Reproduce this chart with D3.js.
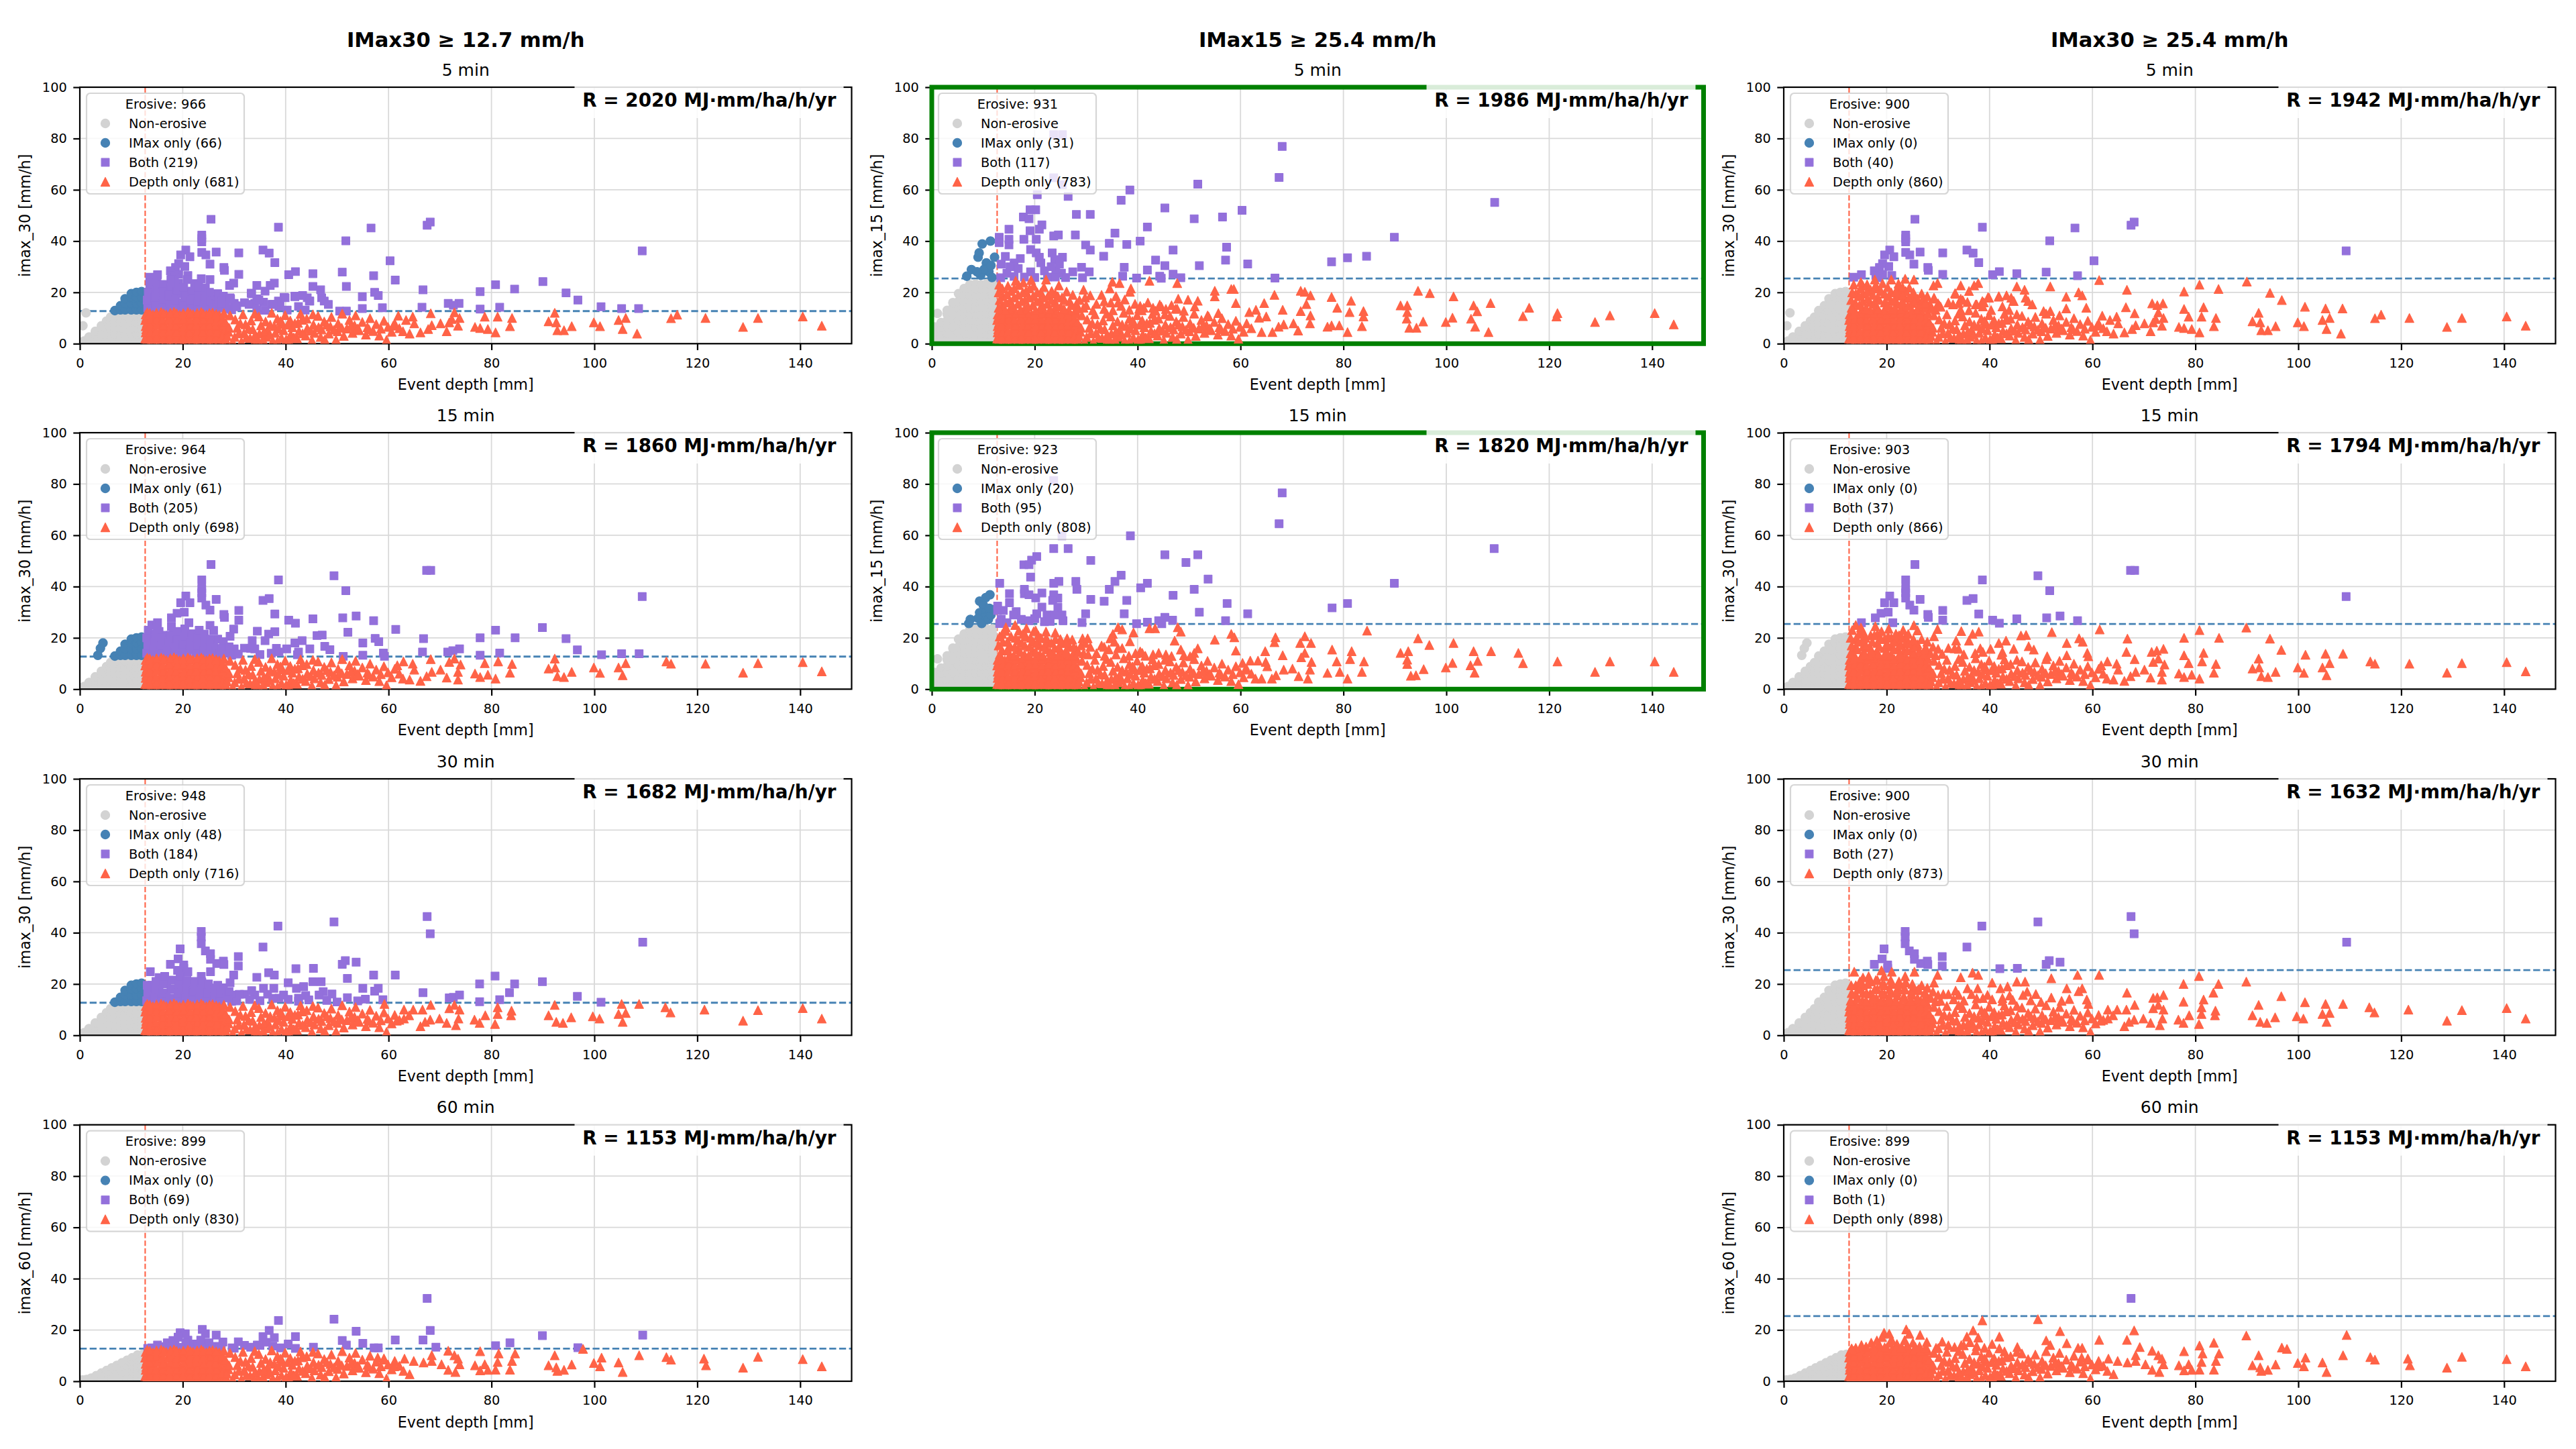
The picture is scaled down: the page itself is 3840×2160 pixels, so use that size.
<!DOCTYPE html>
<html>
<head>
<meta charset="utf-8">
<script src="https://cdn.jsdelivr.net/npm/d3@7"></script>
<style>
  html, body { margin: 0; background: #fff; }
  text { font-family: "DejaVu Sans", sans-serif; fill: #000; }
</style>
</head>
<body>
<svg id="chart" width="3840" height="2160"></svg>
<script>
// Column and row captions
const columnTitles = ["IMax30 ≥ 12.7 mm/h", "IMax15 ≥ 25.4 mm/h", "IMax30 ≥ 25.4 mm/h"];
const rowDurations = ["5 min", "15 min", "30 min", "60 min"];
const depthTicks = [0, 20, 40, 60, 80, 100, 120, 140];
const intensityTicks = [0, 20, 40, 60, 80, 100];
const depthThreshold = 12.7;
const intensityThresholds = [12.7, 25.4, 25.4];

// Annual erosivity and event counts per column, top row first
const rFactors = [[2020, 1860, 1682, 1153], [1986, 1820], [1942, 1794, 1632, 1153]];
const erosiveCounts = [[966, 964, 948, 899], [931, 923], [900, 903, 900, 899]];
const imaxOnlyCounts = [[66, 61, 48, 0], [31, 20], [0, 0, 0, 0]];
const bothCounts = [[219, 205, 184, 69], [117, 95], [40, 37, 27, 1]];
const depthOnlyCounts = [[681, 698, 716, 830], [783, 808], [860, 866, 873, 898]];
const yLabels = [["imax_30", "imax_30", "imax_30", "imax_60"], ["imax_15", "imax_15"], ["imax_30", "imax_30", "imax_30", "imax_60"]];

// Small events below the depth limit: depth with its intensities
const wedge30 = [[0.8,[1]],[1.8,[1,2.6]],[3,[1.2,3.6,4.8]],[4.2,[1.2,3.6,6,7]],[5.2,[1.2,3.6,6,8.8]],[6,[1.2,3.6,6,8.4,10.4]],[6.8,[1.2,3.6,6,8.4,10.8,12.9]],[7.9,[1.2,3.6,6,8.4,10.8,13.2,14.8]],[8.8,[1.2,3.6,6,8.4,10.8,13.2,15.6,17.5]],[10,[1.2,3.6,6,8.4,10.8,13.2,15.6,18,19.5]],[11,[1.2,3.6,6,8.4,10.8,13.2,15.6,18,20]],[12,[1.2,3.6,6,8.4,10.8,13.2,15.6,18,20.3]]];
const wedge15 = [[0.6,[1.5,4,6.5]],[1.1,[11.8]],[1.8,[1.5,4,6.5,8.2]],[3,[1.5,4,6.5,9,11.5,13]],[4.1,[1.5,4,6.5,9,11.5,14,16]],[5.2,[1.5,4,6.5,9,11.5,14,16.5,19.5]],[6.3,[1.5,4,6.5,9,11.5,14,16.5,19,21.5]],[7.4,[1.5,4,6.5,9,11.5,14,16.5,19,21.5,23]],[8.5,[1.5,4,6.5,9,11.5,14,16.5,19,21.5,23.2]],[9.6,[1.5,4,6.5,9,11.5,14,16.5,19,21.5,23]],[10.7,[1.5,4,6.5,9,11.5,14,16.5,19,21.5,23.4]],[11.8,[1.5,4,6.5,9,11.5,14,16.5,19,21.5,23.5]]];
const wedge60 = [[0.5,[0.5]],[1.3,[0.7]],[2.2,[1.2]],[3.2,[1,2.2]],[4.2,[1.2,3.2]],[5.2,[1.2,3.2,4.2]],[6.2,[1.2,3.4,5.2]],[7.2,[1.2,3.6,6.2]],[8.2,[1.2,3.6,5.8,7.2]],[9.2,[1.2,3.6,6,8.2]],[10.2,[1.2,3.6,6,8,9.2]],[11.2,[1.2,3.6,6,8.2,10.2]],[12.2,[1.2,3.6,6,8.4,10.5]]];

// Low-intensity events of moderate depth, present under every panel
const coreLow = [[12.9,0.9],[13,3.2],[12.9,5.6],[13,8],[12.9,10.3],[13.1,12.2],[14.2,1.4],[14.3,3.9],[14.1,6.5],[14.4,8.9],[14.2,11.3],[15.5,0.7],[15.4,3],[15.7,5.5],[15.5,7.8],[15.6,10.2],[15.8,12.3],[16.8,1.6],[16.9,4.1],[16.7,6.6],[17,9.1],[16.8,11.4],[18.1,0.8],[18.2,3.2],[18,5.6],[18.3,8],[18.1,10.4],[18.3,12.4],[19.4,1.5],[19.5,4],[19.3,6.5],[19.6,9],[19.4,11.3],[20.7,0.7],[20.6,3.1],[20.9,5.5],[20.7,7.9],[20.8,10.2],[21,12.3],[22,1.6],[22.1,4.1],[21.9,6.6],[22.2,9.1],[22,11.5],[23.3,0.9],[23.2,3.3],[23.5,5.7],[23.3,8.1],[23.4,10.4],[23.6,12.3],[24.6,1.5],[24.7,4],[24.5,6.4],[24.8,8.9],[24.6,11.3],[25.9,0.8],[25.8,3.2],[26,5.6],[25.9,8],[26.1,10.3],[25.8,12.1],[27.1,1.6],[27.2,4],[27,6.5],[27.3,8.8],[27.1,11.2],[28.2,2.4],[28.1,5.2],
[12.7,2],[12.8,4.4],[12.8,6.8],[12.7,9.2],[12.8,11.4],[13.6,0.2],[13.6,2.2],[13.7,4.6],[13.6,7.2],[13.7,9.6],[13.6,11.9],[14.9,0.3],[14.9,2.6],[14.8,5],[15,7.4],[14.9,9.8],[14.9,12],[16.2,2.2],[16.1,4.6],[16.2,7],[16.1,9.4],[16.3,11.8],[17.5,0.3],[17.5,2.4],[17.4,5],[17.6,7.4],[17.4,9.7],[17.6,12],[18.8,2.2],[18.8,4.6],[18.7,7],[18.9,9.4],[18.8,11.8],[20.1,0.3],[20.1,2.4],[20,5],[20.2,7.2],[20.1,9.6],[20.1,11.9],[21.4,2.2],[21.3,4.6],[21.5,7],[21.4,9.4],[21.5,11.7],[22.7,0.3],[22.6,2.5],[22.8,5],[22.6,7.4],[22.7,9.7],[22.8,12],[24,2.2],[23.9,4.6],[24.1,7],[24,9.4],[24,11.7],[25.3,0.3],[25.2,2.4],[25.3,5],[25.2,7.3],[25.4,9.6],[25.2,11.9],[26.5,2.2],[26.6,4.6],[26.4,7],[26.6,9.3],[26.5,11.6],[27.8,0.3],[27.7,3],[27.9,7.4],[27.7,9.8],[28,11.9]];
const midLow = [[28.4,1.2],[28.9,4.6],[28.3,8.3],[29.2,11],[30.1,2.6],[30.6,6.2],[30.2,9.4],[31.4,0.8],[31.9,4.1],[32.2,7.5],[31.7,11.4],[33.1,2.2],[33.6,5.6],[33.3,9],[34.6,1.4],[34.9,3.9],[35.2,7.1],[34.8,10.6],[36.2,2.7],[36.5,5.3],[36.1,8.6],[37.3,12],[37.5,1.1],[38,4.2],[37.8,6.8],[38.4,9.7],[39.2,2.3],[39.6,5.2],[39.4,7.7],[39.9,11.1],[40.7,0.9],[41,3.6],[41.3,6.4],[40.9,9],[42.2,2.1],[42.6,4.9],[42.4,8.1],[42.9,11.6],[43.9,3.1],[44.2,6],[44.1,9.7],[45.1,1.3],[45.6,4.2],[45.4,7.4],[46.3,10.8],[46.8,2.6],[47,5.5],[47.5,8.6],[48.4,3.9],[48.7,6.7],[48.9,10.4],[49.8,1.5],[50.1,4.8],[50.2,7.9],[51,11.7],[51.3,3],[51.9,5.9],[52.4,9.2],[53,4.2],[53.4,7.1],[53.6,11],[54.3,5.2],[54.9,8.4],[55.6,3.5],[55.9,6.4],[56.4,9.9],[57,4.9],[57.6,7.6],[58.2,3.1],[58.5,5.8],[59.1,8.9],[59.9,6.5],[60.6,4.6],[61.2,7.9],[62.1,6],
[28.6,3],[29,6.2],[29.7,0.8],[30.9,4],[31.2,7.9],[32.4,2.4],[32.8,5.9],[33.9,0.6],[34.1,3.5],[34,11.7],[35.6,1.6],[35.8,4.7],[36.9,3.4],[37,7.4],[38.4,0.9],[38.6,5.8],[39,8.8],[40.1,1.6],[40.4,7.4],[41.6,2.4],[41.8,7.9],[43.3,4],[43.2,9.3],[44.9,5],[45.3,11.4],[46.4,6.4],[47.6,1.6],[48,7.4],[49.4,5.4],[50.9,6.2],[52.7,6.9],[54,5.9],[56.2,5.6]];

// Intermediate-intensity events filling the cloud just above the low band
const cloud30 = [[13.8,12.9],[13.9,16],[14,19.5],[15.3,13.5],[15.4,16.5],[15.4,19.5],[15.4,22.5],[16.8,13],[16.8,16.2],[16.9,21],[18,14.5],[18.2,18],[18.2,21.5],[19.5,13],[19.6,16],[19.6,19.5],[20.8,16.5],[20.9,13.3],[20.9,20],[22.1,15.5],[22.2,18.6],[22.4,21],[23.4,15],[23.6,17.8],[23.7,20.5],[24.9,13.2],[24.9,15.8],[25.1,18.5],[26,17.5],[26.6,13.4],[26.8,19.5],[27.9,15],[27.9,18.5],[29.5,13.2],[30,15.7],[32,16],[34,15.7],[38.7,14.5],[42.5,14.5]];
const cloud15 = [[13.7,15],[13.8,18.5],[13.7,21.5],[15.2,13.5],[15.2,16.8],[15.4,20.5],[16.7,15.5],[16.8,19],[16.9,22.8],[18,13.5],[18.1,17],[18.3,20.5],[19.6,15],[19.7,18.5],[19.8,22.5],[21,13.5],[21,17],[21.2,20],[22.4,15.5],[22.6,18.6],[23.8,13],[23.9,16],[24,19.5],[25.1,14.5],[25.3,18],[26.6,13],[26.8,16.5],[27.9,13],[28.1,15.5],[29.5,14],[29.8,18],[33.5,16.5],[36.2,16],[40.5,14.7]];
const cloud60 = [[14,13],[16,13.5],[17,15],[18.5,14.5],[20,13],[21,16],[22,14.5],[23,13],[24,14],[26.4,13.6],[27.5,13],[30,12.9],[32,14],[35,14],[36.2,15.2],[39,13],[40.5,14.5]];

// imax_30 at 5 min resolution
const imax30At5 = [[25.5,48.5],[38.6,45.4],[56.6,45.1],[67.5,46.2],[68.1,47.4],[23.7,42.3],[23.7,41],[23.7,39.7],[51.7,40.1],[109.3,36.2],[20.6,36.5],[19.6,34.6],[21.4,33.9],[23.7,35.6],[24.5,34.6],[26.5,35.7],[30.9,35.4],[35.6,36.5],[36.8,35.3],[37.9,31.6],[60.3,32.3],[25.3,31],[19.2,31.2],[20.4,30.1],[18.6,29.7],[28,29.7],[28.1,28.6],[17.6,28.4],[17.9,26.6],[19.2,27],[41.9,28.1],[40.6,26.9],[45.3,27.3],[51,27.9],[57.1,26.5],[30.9,27],[21,26.6],[15.1,26.9],[13.6,25.9],[18.4,25.7],
[13.2,14],[13.1,17],[13.3,20],[13.6,23],[14.7,15],[14.6,18.5],[14.9,21.5],[15,24],[16.2,23.1],[16,14],[16.3,17.5],[16.2,20.3],[17.5,15.5],[17.3,19],[17.8,22.5],[17.7,25],[18.3,13.6],[18.6,17],[18.9,20.5],[19.2,23.5],[20.1,15],[20.4,18.5],[20.2,22],[20.9,25],[21.6,14],[21.5,17],[21.8,20.5],[22.3,23.4],[22.8,13.5],[23,16.3],[23.1,19],[23.1,22],[23.6,25.3],[24.1,14.8],[24.3,18],[24.4,21.8],[25.3,25],[25.2,20],[25.4,16.5],[25.9,13.3],[26.5,15.5],[27,17.2],[27.6,14],[28.4,15.5],[28.7,13.6],
[29.2,17.9],[27.5,16.6],[30.5,14.4],[29.1,22.7],[29.9,23.6],[33.3,19.7],[34.4,22.7],[36,20.5],[37,22.7],[37.8,23.6],[32.9,15.3],[34.4,17.5],[35.7,16.2],[37.3,15.3],[38.6,16.6],[39.7,18.1],[34.4,13.1],[36,13],[40.3,13.1],[41.8,18.5],[43.3,18.8],[44.2,17.9],[44.7,16.6],[43.8,13.1],[45.3,22.3],[46.8,21],[47,17.9],[47.5,16.6],[48.3,15.3],[50.5,12.7],[51.8,12.7],[51.8,22.3],[54.9,18.3],[54.9,13.7],[57.3,20],[58,18.8],[58.8,14],[61.3,24.8],[66.7,21],[77.8,20.3],[80.8,23],[84.5,21.3],[90,24.2],[94.5,19.8],[96.8,17],[71.6,15.7],[73.7,15.7],[72.6,15],[66.5,14.2],[77.8,13.5],[81.6,14.2],[101.3,14.4],[105.3,13.7],[108.6,13.7],
[30.3,14.8],[27.5,15.7],[38.9,16.1],[37.5,15.3],[33.4,19.4],[29.3,17.5],[34.8,17],[39.9,17.9],[41.8,18.3],[44.6,16.6],
[92.3,12],[81.2,10.5],[84,10],[78.7,10.5],[68.2,11.8],[72.8,12.2],[61.9,10.9],[64.7,10.5],[63.4,9.2],[65,7.9],[114.9,9.9],[116.1,11.3],[121.6,10],[131.8,10],[140.5,10.6],[128.9,6.5],[144.2,7],[106.1,10],[104.7,9.2],[99.9,8.3],[101.1,6.8],[105.5,5.7],[108.3,3.9],[95.6,6.8],[94.1,5.2],[92.8,5.2],[91.1,8.7],[92.6,8.3],[83.6,6.8],[80.8,4.4],[79.3,5.7],[77.8,6.1],[76.8,6.5],[73.5,7],[73.8,10],[72.3,9.6],[71.3,4.8],[71.8,8.3],[70.1,7.9],[68.4,7.2],[67.7,5.7],[66.2,4.4],[64.1,3.9],[62.8,4.8],[59.6,1.4],[60.9,7]];

// imax_30 at 15 min resolution
const imax30At15 = [[25.5,48.6],[49.4,44.2],[38.6,42.6],[23.7,42.6],[67.4,46.3],[68.2,46.3],[51.7,38.4],[23.7,39.2],[23.7,37.6],[23.7,35.5],[109.3,36.1],[20.6,36.3],[19.6,33.7],[21.4,33.7],[26.5,35],[35.6,34.6],[36.8,35.3],[24.5,32.8],[25.3,30.8],[30.9,30.7],[28,29.1],[28.1,28],[20.3,30],[18.9,29.6],[37.9,29.3],[51.1,27.8],[53.7,28.5],[57.1,26.7],[45.3,27.4],[40.6,26.9],[41.9,25.7],[30.9,26.9],[17.8,27.8],[25.3,24.9],[21.2,25.9],[15.1,25.9],[61.4,23.3],[80.8,23],[89.9,24],[29.9,23.4],[34.5,22.6],[37.9,22.4],[52.1,22.2],[47.1,21.1],[46.1,20.9],[29.2,20.6],[36.7,21.5],[66.8,19.7],[77.8,20],[84.6,20],[94.5,19.7],[57.4,19.8],[58.1,18.5],[55,18],[43.2,18.9],[41.8,18],[33.5,18.9],[36,18.9],[47.6,16.7],[96.7,15.3],[73.8,15.7],[72.5,15],[71.5,14.5],[66.6,14.5],[59,14.1],[59.2,12.8],[55,13.2],[77.8,13.2],[81.6,14.1],[101.4,13.4],[105.3,13.8],[108.7,13.8],[51.2,12.8],[48.6,15.4],[44.7,15.7],[40.2,15.7],[38.2,15.9],[30.8,13.7],[33.2,15.9],[35,13.5],[37.2,14],[42.3,13.4],
[13,14],[13.2,17],[13,20],[13.3,23],[14,25],[14.3,15.5],[14.5,18.5],[14.6,21.5],[15,24],[15.7,14],[16,17],[15.9,20],[17,15],[17.2,18.5],[17.6,21],[17.8,24.5],[18.4,13.6],[18.6,16.5],[18.9,19.5],[19,22.5],[20,14.5],[20.1,17.5],[20.3,20.5],[20.4,23.5],[21.4,15.5],[21.5,18.5],[21.8,21.6],[22.6,14],[22.8,17],[23,20],[23.2,23],[24,15],[24.2,18],[24.2,21.5],[25.2,13.8],[25.4,16.5],[25.2,19.5],[26,22.9],[26.4,15],[27.2,13.6],[27.5,16],[28.5,14],[29,16.5],
[3.5,13.2],[4,15.9],[4.5,18],
[92.3,11.9],[81.3,10.8],[84,9.8],[78.7,10.1],[68.2,11.7],[72.8,11.9],[71.8,10.6],[74,9.6],[62.9,10.8],[64.7,9.9],[61.7,9.3],[65,7.6],[114,10.8],[114.9,9.9],[121.6,9.9],[131.8,10.1],[140.5,10.5],[128.9,6.4],[144.2,6.9],[106.1,10.1],[104.7,8.4],[99.9,8.4],[101.1,6.3],[105.5,5.4],[95.6,6.7],[94.1,4.7],[92.8,5],[91.1,8],[92.4,8.4],[83.6,6.4],[80.8,4.1],[79.3,5.6],[77.8,4.7],[76.8,6.1],[73.5,6.7],[73.5,3.7],[71.3,4.5],[70.1,7.6],[68.4,6.7],[67.4,5],[66.2,3.2],[64.1,3.7],[62.8,4.1],[59.6,1.5]];

// imax_30 at 30 min resolution
const imax30At30 = [[67.5,46.3],[49.4,44.2],[38.5,42.6],[68.1,39.6],[23.6,40.5],[23.6,38.3],[23.6,35.7],[109.4,36.3],[35.6,34.4],[19.5,33.7],[24.4,32.9],[25.4,31.8],[25.4,29.6],[30.8,30.7],[30.8,27],[19.1,29.8],[17.6,27.7],[20.2,27.4],[27.9,28.9],[26.6,28],[28,27.6],[51.6,29.1],[51,27.7],[53.7,28.5],[42,26],[45.4,26.1],[20.2,26.1],
[13.7,24.8],[19,25.3],[21,24.8],[23.6,23],[25.4,24.8],[29.9,23.5],[34.4,22.6],[36.7,24.4],[37.8,23.5],[52,22.2],[57.1,23.5],[61.3,23.5],[80.7,23.1],[89.9,20.9],[77.7,20],[84.5,20],[40.5,20.5],[45.3,20.9],[46.9,20.9],[42.1,18.3],[43.5,19],[55,18.3],[58,18.3],[57.3,17.2],[66.7,16.6],[71.8,14.6],[72.6,14.8],[73.8,15.7],[83.5,16.6],[96.7,15.2],[81.6,13.9],[77.7,13.1],[47.3,17],[46.5,15.7],[43.9,15.5],[39.6,15.7],[37.5,14.4],[37.7,18.3],[35.7,18.3],[33.4,17.4],[29.2,20.5],[58.9,13.9],[101.3,12.9],
[13,13.5],[13.2,16.5],[13.1,19.5],[14.4,14.5],[14.6,18],[14.8,21],[16,13.5],[16.1,16.5],[16.3,20],[16.5,23],[17.5,14.5],[17.7,18],[17.9,21.5],[18.9,13.5],[19.1,16.5],[19.2,20],[19.5,23],[20.4,14.5],[20.6,18],[20.8,21.5],[21.8,13.5],[22,17],[22.3,20],[23.2,14.5],[23.4,18],[23.7,20.8],[24.6,13.5],[24.8,16.5],[25,20],[26,14.5],[26.2,18],[27.2,13.5],[27.4,16.5],[28.6,14.5],[29,17],[30.5,13.4],[31,16],[33,14],[35,13.5],[36.5,16],[40.5,14],[42.5,13.3],[44.5,13.8],[48,13.6],[49,16.1],[50,13],[52,14.7],[54,13.4],[55.5,14.1],
[59.2,12.2],[92.3,11.8],[105.3,12.2],[108.7,12.2],[113.8,10.9],[114.8,8.9],[121.4,10],[131.8,9.8],[140.5,10.6],[128.9,5.7],[144.2,6.5],[106.1,8.7],[104.7,8.3],[99.7,7.4],[101,6.5],[105.5,5.2],[95.5,7],[93.9,4.8],[92.6,5.2],[91.1,7.8],[83.9,9.6],[83.8,7.8],[81.2,10.9],[81.2,8.3],[80.7,4.4],[78.8,7.8],[77.7,4.8],[76.7,6.1],[73.8,10],[73.6,6.5],[73.1,3.9],[71.3,4.8],[71.8,10.5],[72.8,11.8],[68.2,11.8],[69.9,6.5],[68.1,6.1],[67.1,5.2],[66.2,3.5],[66.6,10],[64.8,10],[63,10],[64,7.8],[63,6.5],[61.6,5.7],[59.6,1.3]];

// imax_60 at 60 min resolution
const imax60At60 = [[67.5,32.3],[49.4,24.2],[38.6,23.7],[23.8,20.2],[24.4,18.5],[19.5,18.9],[20.5,18.5],[26.5,18],[36.8,19.8],[35.6,17.4],[37.8,17],[41.9,17.4],[68.1,19.8],[53.7,19.5],[61.3,16.1],[66.7,16.1],[51,15.9],[51.8,14.1],[55,14.8],[58,13],[57.2,13],[69.2,13.3],[89.9,17.8],[109.4,18],[80.8,13.9],[83.6,15],[96.8,13.1],[27.8,15.3],[30.8,15.4],[18.1,15.9],[19.1,17.2],[13.2,12.8],[15.1,14.1],[17.5,13.3],[21.8,13.3],[22.9,13.3],[25.1,15],[33.2,13.3],[34.5,14.1],[37.5,13.7],[41.9,12.8],[45.4,13.3],[20.6,15],[23.5,16],[25.6,13.3],[19.6,13.2],[29.6,13],
[77.8,11.7],[81.4,10.8],[84.6,10.8],[97.8,12.6],[101.4,9.2],[92.3,10.1],[104.7,7.3],[108.7,10.1],[114,9.4],[114.9,8.4],[121.3,8.8],[121.7,6.2],[131.8,9.5],[140.5,8.6],[128.9,5.3],[144.2,5.8],[105.5,3.6],[101.1,5.8],[99.9,7.1],[95.6,6.5],[94.1,4.4],[92.8,4],[92.6,5.4],[91.1,6.2],[83.6,4.5],[84,7.9],[81.2,7.5],[80.8,4.5],[78.7,6.6],[79.3,4.4],[77.8,4.2],[76.8,6.2],[73.5,8.8],[73.8,6.6],[72.8,10.1],[71.6,11.9],[71.6,4.4],[73,3.6],[70.3,6.6],[68.4,7.9],[68.4,10.1],[66.8,7.3],[64.9,7.9],[63.1,8.8],[64.1,2.7],[62.9,4],[61.1,5.8],[59.6,1],[59.2,8.4],[57.9,9.2]];

// imax_15 at 5 min resolution
const imax15At5 = [[23.7,81.5],[25.4,81.5],[68.1,76.9],[67.5,64.8],[23.7,64.7],[25.4,62],[51.7,62.2],[38.5,59.9],[20.5,58.1],[26.5,57.4],[36.8,55.9],[109.4,55.1],[45.3,52.9],[60.3,52],[20.2,52.2],[19.1,52.2],[17.8,49.4],[18.9,48.7],[28.1,50.4],[30.8,50.4],[51,48.7],[56.5,49.4],[21.4,46.3],[20.9,44.6],[15,44.6],[41.9,45.5],[35.6,43.1],[23.7,42],[24.6,42.4],[27.9,42.4],[19.1,44],[13.1,41.5],[13.1,39.4],[15,40.7],[15,38.5],[17.9,40.7],[20.3,40.7],[89.9,41.5],[40.5,40],[37.9,38.7],[34.5,39.1],[29.9,38.5],[30.8,36.5],[46.9,36.5],[57.3,37.6],[19.2,36.7],[20.3,35.4],[20.9,33.7],[21.2,31.5],[23.4,35.4],[23.9,32.8],[25.4,33.7],[17.2,33.2],[33.4,34.1],[84.5,34.1],[80.8,33.5],[77.7,31.9],[43.5,32.6],[57.1,32.6],[45.3,30.4],[52,30.4],[61.4,31.1],[37.4,29.8],[41.9,28.7],[29.1,29.8],[30.6,28],[27.4,28],[46.9,27.1],[44.3,26.3],[44.6,25.5],[37.1,26.3],[39.8,25.6],[29.3,25.7],[48.4,25.7],[66.7,25.6],[16,31.5],[16.8,29.3],[19.2,28],[21.9,28.4],[24.1,28.4],[25.2,27.5],[13.4,25.7],[14.3,34],[14.6,27.5],[16,26.2],[18,26],[20,25.8],[22.5,26],[24,26],[26,25.8],[13.5,31],[15.2,30],[23.2,30],[24.8,31],
[9.8,38.9],[11.4,40],[9,33.7],[9.2,35.4],[10.6,31.5],[7.7,28.9],[6.8,26.3],[9.5,26.7],[11.1,28],[12.2,33.7],[11.7,25.8],[10.2,29],[8.8,28],[11.5,30.5],
[42.3,24.5],[47.7,23.6],[35.1,24.1],[36.5,23.6],[38.7,21.5],[38.5,20.2],[34.6,21.5],[55,20.6],[58.2,21.3],[58.7,21.3],[71.7,20.6],[72.5,20.2],[73.6,18.8],[66.6,19],[94.5,20.6],[96.8,19.7],[101.4,18.4],[77.7,18.2],[81.5,16.7],[105.3,14.9],[106,12.6],[108.6,15.8],[116.1,14],[121.6,11.9],[121.4,10.6],[131.8,11],[140.5,11.9],[128.9,8.4],[144.2,7.5],[114.9,10.7],[104.8,9.7],[101.2,10.1],[99.9,8.4],[105.6,6.6],[108.2,4.5],[95.5,8.6],[92.3,9.7],[91.1,14.9],[92.4,14.9],[92.4,12.3],[94.2,6.2],[92.8,6.2],[78.8,14],[81.2,12.3],[83.9,12.7],[83.9,10.6],[83.6,6.8],[80.8,4.5],[79.2,7.1],[77.7,7.1],[76.9,6.6],[73.6,11],[72.8,15.4],[71.7,12.7],[73.5,7.9],[71.2,5.1],[68.2,13.2],[70.3,7.9],[68.4,7.5],[67.4,6.6],[64.6,15.8],[63,13.2],[65,10.6],[63.6,10.1],[61.7,12.3],[64.1,4.5],[66.2,4.5],[59.1,15.8],[59.6,1.8],[55,18.4],[51.1,14.5],[51.7,16.7],[49.8,17.1],[47.9,17.5],[55.7,11.9],[53.8,10.6],[47.4,13.6],[44.6,14.5],[43,14],[41.2,14],[40.3,13.6],
[13,14],[13.2,17],[13,20],[13.1,23],[14.3,13],[14.4,16],[14.6,19.2],[14.8,22.5],[15.8,14.5],[16,18],[16,21.5],[16.3,24.5],[17.2,13],[17.5,16.5],[17.7,20],[17.8,23.8],[18.7,14.5],[18.9,18],[19,21.5],[19.3,24.8],[20.2,13],[20.4,16.5],[20.5,20],[21.5,14.5],[21.7,18],[21.8,22],[22.2,25],[23,13.5],[23.2,17],[23.3,20.5],[24.3,15],[24.5,18.5],[24.7,22.7],[25.7,13.5],[25.8,17],[26.2,20.3],[27.2,15],[27.4,19],[28.4,13.6],[28.7,17],[29.5,21],[30,15],[30.8,18.8],[31.3,13],
[32,15.5],[33,19],[33.5,13.5],[34.8,16],[35.8,18.5],[35.2,13],[36.8,14.7],[37.5,17.2],[38.4,13.2],[39.5,15.5],[40.8,13],[42,16],[43.5,12.8],[44.3,15.2],[45.5,13.5],[46.6,15],[47.7,13.6],[49,12.8]];

// imax_15 at 15 min resolution
const imax15At15 = [[23.7,81.4],[68.1,76.5],[67.5,64.5],[25.3,59.8],[38.6,59.8],[23.7,54.8],[26.5,54.8],[109.3,54.8],[45.3,52.4],[51.7,52.4],[20.4,51.7],[19.4,50.3],[17.9,48.5],[18.9,48.5],[30.9,50.2],[49.4,49.4],[19.2,43.7],[36.8,44.4],[53.7,42.9],[35.6,42],[28,42],[24.7,42],[23.7,41.3],[13.2,41.3],[41.9,41.3],[40.6,39.5],[89.9,41.3],[28.2,38.9],[34.5,38.9],[51,38.9],[18,38.9],[18,37.2],[21.4,37.5],[18.9,36.8],[20.2,35.6],[15.1,37.2],[46.9,36.6],[23.7,36.8],[24.5,35.5],[23.5,34.6],[30.9,35],[33.5,34.3],[37.9,34.6],[15.1,33.7],[57.4,33.4],[80.8,33.4],[77.8,31.7],[21.4,32],[24.5,32],[12.8,32.4],[12.8,30.7],[52,30],[37.4,29.4],[61.4,29.4],[29.9,29.4],[13.9,30.7],[16.4,30.2],[15.9,28.9],[20.4,29.4],[22.4,28.9],[23.8,28.9],[25.3,28.9],[45.3,28],[44.1,26.7],[46.8,26.9],[57.1,26.7],[18.9,26.7],[21.9,26.3],[25.5,26.7],[13.5,27.2],[13.2,25.6],[14.6,25.9],[17.4,27.2],[29.2,26],[41.9,26.1],[39.8,25.5],[44.7,25.5],[23,26.4],[20,27.5],
[11.3,36.8],[10.5,35.7],[9.3,34.3],[10,32.8],[9.3,29.8],[10.5,29.8],[10.3,28],[9,27.6],[7.5,27.2],[7.2,25.6],[9.7,25.6],[11,27.2],[11.5,28.9],[12,31],[11.2,31.5],
[84.6,22.8],[36.2,24.1],[37,23.3],[42.3,23.7],[43.4,23.7],[47.8,24.1],[48.4,22.4],[39.2,22.1],[35.2,21.5],[34.7,19.8],[35.5,18.5],[66.8,20.2],[58.2,21.5],[58.8,20.2],[55,19.3],[72.5,20.6],[71.6,18],[73.7,18],[94.5,19.8],[96.7,17.2],[101.4,18],[66.6,18.3],[47.2,18.9],[38.5,18.6],[29.3,19.8],[30.3,19.8],[26.3,19.8],[27.3,19.3],[24,22],[22.2,22.4],[20.2,22.8],[14.4,24.1],[16.2,25],[18.4,23.7],[77.8,15.4],[81.6,14.8],[105.3,14.8],[108.7,14.8],[114,14.1],[91.1,14.1],[92.6,14.8],[64.8,14.8],[59.1,15],[51.7,15.9],[51,14.1],[48.4,15.4],[40.9,14.1],[44.1,14.1],[72.5,14.1],[68.2,13.2],[121.6,10.8],[131.8,10.8],[140.5,10.8],[128.9,6.7],[144.2,6.7],[114.9,10.1],[106.1,11],[104.7,9.3],[101.2,10.2],[99.9,8.4],[105.5,6.4],[95.6,7.8],[94.1,5.4],[93.1,5.2],[92.4,11.5],[92.4,9.8],[81.3,11.7],[84,10.8],[78.7,10.8],[83.6,6.7],[80.8,4.1],[79.3,6.7],[76.9,6.3],[73.8,10.6],[71.8,12.4],[73.5,7.6],[73.1,4.1],[71.3,5],[70.1,8],[68.4,7.6],[66.9,5.4],[66.1,4.1],[64.9,10.6],[63.4,11.1],[61.9,11.1],[60.4,10.2],[65.2,8.9],[64.1,4.1],[62.9,4.1],[60.9,7.6],[59.6,1.9],
[13.2,13.5],[13,17],[13.2,20.5],[14.4,22.7],[14.6,15],[14.7,18.5],[15.9,13],[16.1,16.5],[16.3,20],[17.2,14.5],[17.5,18],[17.7,21.5],[18.8,13],[19,16.5],[19.2,20],[20.2,14.5],[20.4,18],[20.7,21],[21.6,13],[21.8,16.5],[22.2,19.8],[23,14.5],[23.2,18],[24.5,13],[24.7,16.5],[25,19.5],[26,14.7],[26.2,18],[27.4,13.5],[27.6,16.5],[28.5,14.5],[29,17],[30.4,13.5],[30.8,16.5],
[32,14],[33,17],[33.6,13],[34.4,15.5],[35.8,13.5],[37,16],[38.3,13],[39.6,14],[41.5,13],[43,13.5],[45.5,13.5],[46.6,12.9],[49,13.2],[50.2,12.8]];

// Detached small events seen only at 5 min resolution
const isolated30At5 = [[1.2,12],[0.6,7]];

const unfold = cols => cols.flatMap(([d, ys]) => ys.map(y => [d, y]));
const events30At5 = [...unfold(wedge30), ...isolated30At5, ...coreLow, ...midLow, ...cloud30, ...imax30At5];
const events30At15 = [...unfold(wedge30), ...coreLow, ...midLow, ...cloud30, ...imax30At15];
const events30At30 = [...unfold(wedge30), ...coreLow, ...midLow, ...cloud30, ...imax30At30];
const events60At60 = [...unfold(wedge60), ...coreLow, ...midLow, ...cloud60, ...imax60At60];
const events15At5 = [...unfold(wedge15), ...coreLow, ...midLow, ...cloud15, ...imax15At5];
const events15At15 = [...unfold(wedge15), ...coreLow, ...midLow, ...cloud15, ...imax15At15];
const panelEvents = [
  [events30At5, events30At15, events30At30, events60At60],
  [events15At5, events15At15],
  [events30At5, events30At15, events30At30, events60At60]
];

// Page layout in pixels
const colLeft = [119, 1389, 2659];
const rowTop = [130, 645, 1161, 1676.7];
const plotW = 1150.5, plotH = 382.3;

const palette = { none: "#d3d3d3", imax: "#4682b4", both: "#9370db", depth: "#ff6347" };

// Isosceles marker: base and height both equal the square root of the size
const upTriangle = {
  draw(ctx, size) {
    const s = Math.sqrt(size);
    ctx.moveTo(0, -s / 2);
    ctx.lineTo(s / 2, s / 2);
    ctx.lineTo(-s / 2, s / 2);
    ctx.closePath();
  }
};
const glyphs = {
  none: d3.symbol(d3.symbolCircle, 135),
  imax: d3.symbol(d3.symbolCircle, 135),
  both: d3.symbol(d3.symbolSquare, 138),
  depth: d3.symbol(upTriangle, 172)
};

const svg = d3.select("#chart");

columnTitles.forEach((t, c) => {
  svg.append("text")
    .attr("x", colLeft[c] + plotW / 2).attr("y", 59)
    .attr("text-anchor", "middle").attr("dominant-baseline", "central")
    .attr("font-size", 30.6).attr("font-weight", "bold").text(t);
});

function drawMarks(parent, clipId, rows, kind, x, y) {
  parent.append("g").attr("clip-path", `url(#${clipId})`)
    .selectAll("path").data(rows).join("path")
    .attr("d", glyphs[kind])
    .attr("transform", d => `translate(${x(d[0])},${y(d[1])})`)
    .attr("fill", palette[kind]).attr("stroke", palette[kind])
    .attr("stroke-width", 1.2).attr("stroke-linejoin", "round");
}

function drawPanel(c, r) {
  const thr = intensityThresholds[c];
  const highlighted = c === 1;
  const x = d3.scaleLinear().domain([0, 150]).range([0, plotW]);
  const y = d3.scaleLinear().domain([0, 100]).range([plotH, 0]);
  const g = svg.append("g").attr("transform", `translate(${colLeft[c]},${rowTop[r]})`);
  const clipId = `clip-${c}-${r}`;
  g.append("clipPath").attr("id", clipId).append("rect")
    .attr("width", plotW).attr("height", plotH);

  // Grid
  const grid = g.append("g").attr("stroke", "#d9d9d9").attr("stroke-width", 1.8);
  grid.selectAll("line.v").data(depthTicks).join("line").attr("class", "v")
    .attr("x1", d => x(d)).attr("x2", d => x(d)).attr("y1", 0).attr("y2", plotH);
  grid.selectAll("line.h").data(intensityTicks).join("line").attr("class", "h")
    .attr("x1", 0).attr("x2", plotW).attr("y1", d => y(d)).attr("y2", d => y(d));

  // Threshold guides
  g.append("line").attr("x1", x(depthThreshold)).attr("x2", x(depthThreshold))
    .attr("y1", 0).attr("y2", plotH)
    .attr("stroke", palette.depth).attr("stroke-width", 2.1).attr("stroke-dasharray", "8,3.5");
  g.append("line").attr("x1", 0).attr("x2", plotW).attr("y1", y(thr)).attr("y2", y(thr))
    .attr("stroke", palette.imax).attr("stroke-width", 2.8).attr("stroke-dasharray", "10.3,4.4");

  const events = panelEvents[c][r];
  const isDeep = d => d[0] >= depthThreshold;
  const isIntense = d => d[1] >= thr;

  drawMarks(g, clipId, events.filter(d => !isDeep(d) && !isIntense(d)), "none", x, y);

  // Spines and axes
  const spineColor = highlighted ? "#008000" : "#000";
  const spineWidth = highlighted ? 7 : 2.2;
  const xAxis = g.append("g").attr("transform", `translate(0,${plotH})`)
    .call(d3.axisBottom(x).tickValues(depthTicks).tickSize(9.7).tickPadding(12));
  const yAxis = g.append("g")
    .call(d3.axisLeft(y).tickValues(intensityTicks).tickSize(9.7).tickPadding(9.5));
  for (const ax of [xAxis, yAxis]) {
    ax.select(".domain").remove();
    ax.selectAll("line").attr("stroke", "#000").attr("stroke-width", 2.2);
    ax.selectAll("text").attr("font-size", 19.4).attr("font-family", '"DejaVu Sans", sans-serif');
  }
  g.append("rect").attr("width", plotW).attr("height", plotH)
    .attr("fill", "none").attr("stroke", spineColor).attr("stroke-width", spineWidth);

  drawMarks(g, clipId, events.filter(d => !isDeep(d) && isIntense(d)), "imax", x, y);
  drawMarks(g, clipId, events.filter(d => isDeep(d) && isIntense(d)), "both", x, y);
  drawMarks(g, clipId, events.filter(d => isDeep(d) && !isIntense(d)), "depth", x, y);

  // Titles and axis labels
  g.append("text").attr("x", plotW / 2).attr("y", -26)
    .attr("text-anchor", "middle").attr("dominant-baseline", "central")
    .attr("font-size", 25).text(rowDurations[r]);
  g.append("text").attr("x", plotW / 2).attr("y", plotH + 61)
    .attr("text-anchor", "middle").attr("dominant-baseline", "central")
    .attr("font-size", 22.2).text("Event depth [mm]");
  g.append("text").attr("transform", `translate(-82,${plotH / 2}) rotate(-90)`)
    .attr("text-anchor", "middle").attr("dominant-baseline", "central")
    .attr("font-size", 22.2).text(`${yLabels[c][r]} [mm/h]`);

  // Erosivity annotation on a translucent plate
  g.append("rect").attr("x", plotW - 413).attr("y", -10).attr("width", 401).attr("height", 56)
    .attr("fill", "#fff").attr("fill-opacity", 0.85);
  g.append("text").attr("x", plotW - 23).attr("y", 29)
    .attr("text-anchor", "end").attr("font-size", 27.8).attr("font-weight", "bold")
    .text(`R = ${rFactors[c][r]} MJ·mm/ha/h/yr`);

  // Legend
  const lg = g.append("g").attr("transform", "translate(10,9)");
  lg.append("rect").attr("width", 235).attr("height", 150).attr("rx", 5.5)
    .attr("fill", "#fff").attr("fill-opacity", 0.8)
    .attr("stroke", "#cccccc").attr("stroke-opacity", 0.8).attr("stroke-width", 2.2);
  lg.append("text").attr("x", 118).attr("y", 16).attr("text-anchor", "middle")
    .attr("dominant-baseline", "central").attr("font-size", 19.4)
    .text(`Erosive: ${erosiveCounts[c][r]}`);
  const entries = [
    ["none", "Non-erosive"],
    ["imax", `IMax only (${imaxOnlyCounts[c][r]})`],
    ["both", `Both (${bothCounts[c][r]})`],
    ["depth", `Depth only (${depthOnlyCounts[c][r]})`]
  ];
  entries.forEach(([kind, label], i) => {
    const ly = 45 + i * 29;
    lg.append("path").attr("d", glyphs[kind]).attr("transform", `translate(28,${ly})`)
      .attr("fill", palette[kind]).attr("stroke", palette[kind]).attr("stroke-width", 1.2)
      .attr("stroke-linejoin", "round");
    lg.append("text").attr("x", 63).attr("y", ly).attr("dominant-baseline", "central")
      .attr("font-size", 19.4).text(label);
  });
}

rFactors.forEach((rows, c) => rows.forEach((_, r) => drawPanel(c, r)));
</script>
</body>
</html>
